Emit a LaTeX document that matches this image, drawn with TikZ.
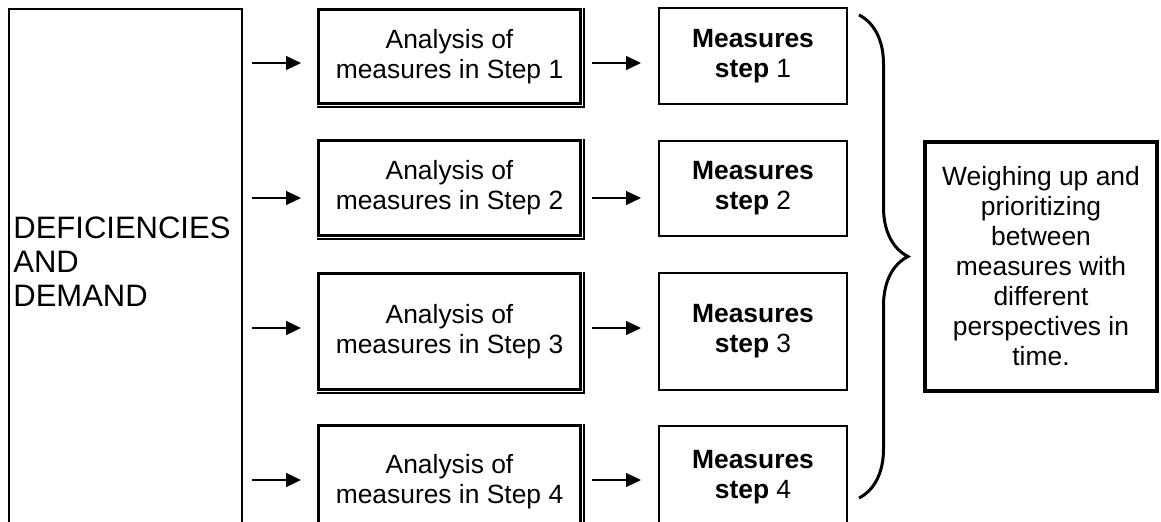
\documentclass[tikz,border=0pt]{standalone}
\usepackage{fontspec}
\setmainfont{Liberation Sans}
\usepackage{tikz}
\usetikzlibrary{arrows.meta, calc, decorations.pathreplacing}

\tikzset{
    boxtext/.style={font=\fontsize{13.2}{15}\selectfont, align=center, inner sep=0pt},
    anabox/.style={boxtext, draw, line width=1.7pt, minimum width=130.8pt},
    measbox/.style={boxtext, draw, line width=1pt, minimum width=94pt},
    rim/.style={line width=0.55pt},
    arr/.style={-{Triangle[length=7.5pt,width=7pt]}, line width=0.6pt},
}

\begin{document}
\begin{tikzpicture}[x=0.5pt, y=-0.5pt]
    \useasboundingbox (0,0) rectangle (1161,522);
    \clip (0,0) rectangle (1161,522);
    \node[draw, line width=1pt, minimum width=116.5pt, minimum height=275pt] (dd) at (125.5,284) {};
    \node[anchor=west, align=left, inner sep=0pt, font=\fontsize{15.5}{17}\selectfont] (ddtext) at (13,262) {DEFICIENCIES\\AND\\DEMAND};
    \foreach \i/\y/\h/\my/\mh/\dy in {1/56.5/46.8/56/48/6.5, 2/188/47.3/188.5/47.5/10, 3/331.5/57.8/331.5/58.5/-3.5, 4/482/56.3/477/51/-2} {
        \node[anabox, minimum height=\h pt] (a\i) at (449.5,\y) {Analysis of\\measures in Step \i};
        \draw[rim] ($(a\i.north east)+(2,0)$) -- ($(a\i.south east)+(2,2)$) -- ($(a\i.south west)+(0,2)$);
        \node[measbox, minimum height=\mh pt] (m\i) at (753,\my) {\textbf{Measures}\\\textbf{step} \i};
        \draw[arr, shorten <=4.5pt, shorten >=8pt] ($(dd.east |- a\i.west)+(0,\dy)$) -- ($(a\i.west)+(0,\dy)$);
        \draw[arr, shorten <=5pt, shorten >=8.5pt] ($(a\i.east)+(0,\dy)$) -- ($(m\i.west |- a\i.east)+(0,\dy)$);
    }
    \coordinate (bt) at (859,15);
    \coordinate (bb) at (859,498);
    \draw[line width=1.5pt, decorate, decoration={brace, amplitude=24.5pt}] (bt) -- (bb);
    \node[boxtext, draw, line width=2pt, minimum width=116pt, minimum height=124.5pt] (wb) at (1041,266.5) {Weighing up and\\prioritizing\\between\\measures with\\different\\perspectives in\\time.};
\end{tikzpicture}
\end{document}
